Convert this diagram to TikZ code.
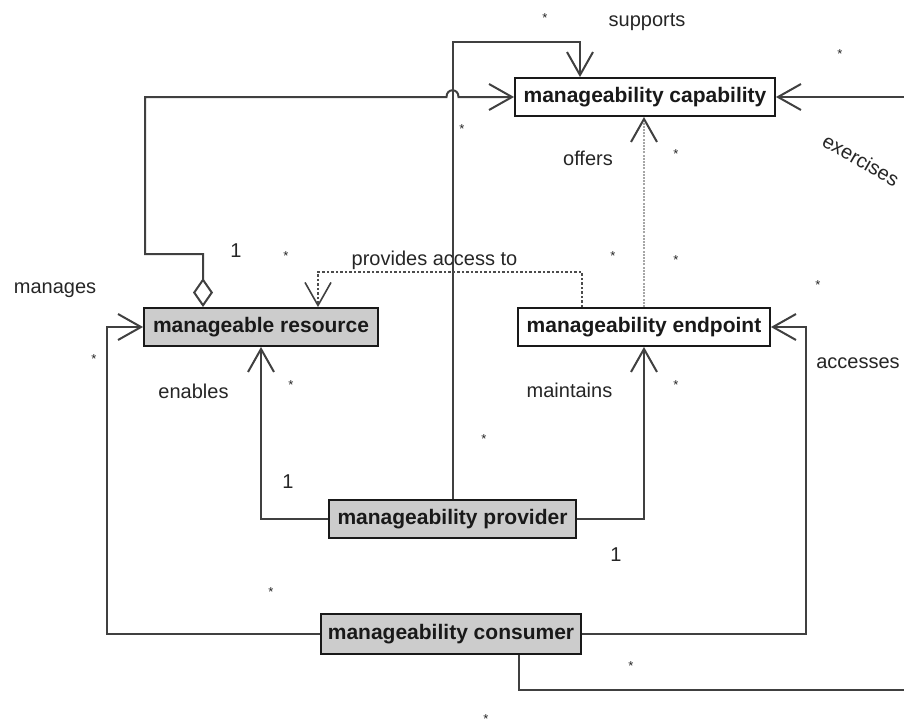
\documentclass[tikz,border=0pt]{standalone}
\usepackage{fontspec}
\setmainfont{Liberation Sans}
\usetikzlibrary{arrows.meta}
\begin{document}
\begin{tikzpicture}[x=1pt,y=-1pt,
  cls/.style={draw=black!90, line width=1.9pt, minimum height=38pt, inner sep=0pt,
    font=\bfseries\fontsize{21}{21}\selectfont, text=black!90},
  shaded/.style={cls, fill=black!20},
  plain/.style={cls, fill=white},
  link/.style={draw=black!75, line width=2pt},
  access/.style={draw=black!70, line width=1.6pt, dash pattern=on 2.5pt off 2pt},
  offer/.style={draw=black!35, line width=2pt, dash pattern=on 2pt off 1.2pt},
  barb/.style={-{Straight Barb[length=23pt,width=26pt,color=black!75]}},
  lbl/.style={font=\fontsize{20}{20}\selectfont, text=black!85, inner sep=0pt},
  mult/.style={font=\fontsize{13}{13}\selectfont, text=black!85, inner sep=0pt, anchor=base},
]
\useasboundingbox[fill=white] (0,0) rectangle (904,724);
\begin{scope}
\clip (0,0) rectangle (904,724);

% classes
\node[plain, minimum width=260pt] (cap) at (645,97) {manageability capability};
\node[shaded, minimum width=234pt] (res) at (261,327) {manageable resource};
\node[plain, minimum width=252pt] (endp) at (644,327) {manageability endpoint};
\node[shaded, minimum width=247pt] (prov) at (452.5,519) {manageability provider};
\node[shaded, minimum width=260pt, minimum height=40pt] (cons) at (451,634) {manageability consumer};

% bend points
\coordinate (sA) at (452.5,42);
\coordinate (sB) at (580,42);
\coordinate (mA) at (203,254);
\coordinate (mB) at (145,254);
\coordinate (mC) at (145,97);
\coordinate (hopL) at (446.5,97);
\coordinate (hopR) at (458.5,97);
\coordinate (eA) at (519,690);
\coordinate (eB) at (930,690);
\coordinate (eC) at (930,97);
\coordinate (pA) at (582,272);
\coordinate (pB) at (318,272);
\coordinate (nA) at (261,519);
\coordinate (tA) at (644,519);
\coordinate (cA) at (107,634);
\coordinate (cB) at (107,327);
\coordinate (aA) at (806,634);
\coordinate (aB) at (806,327);

% supports
\draw[link,barb] (prov.north) -- (sA) -- (sB) -- (sB |- cap.north);
% manages (aggregation), hopping over the supports line
\draw[link,{Diamond[open,length=29pt,width=20pt]}-{Straight Barb[length=23pt,width=26pt]}]
  (mA |- res.north) -- (mA) -- (mB) -- (mC) -- (hopL)
  .. controls (446.5,88) and (458.5,88) .. (hopR) -- (cap.west);
% exercises
\draw[link,barb] (cons.south -| eA) -- (eA) -- (eB) -- (eC) -- (cap.east);
% offers
\draw[offer,barb] (endp.north) -- (endp.north |- cap.south);
% provides access to
\draw[access,barb] (pA |- endp.north) -- (pA) -- (pB) -- (pB |- res.north);
% enables / maintains
\draw[link,barb] (prov.west) -- (nA) -- (res.south);
\draw[link,barb] (prov.east) -- (tA) -- (endp.south);
% manages / accesses
\draw[link,barb] (cons.west) -- (cA) -- (cB) -- (res.west);
\draw[link,barb] (cons.east) -- (aA) -- (aB) -- (endp.east);

% association names
\node[lbl] (lSup) at (647,22) {supports};
\node[lbl, rotate=-30] (lExe) at (861,160) {exercises};
\node[lbl] (lOff) at (588,158) {offers};
\node[lbl] (lPro) at (434.5,260) {provides access to};
\node[lbl] (lMan) at (55,290) {manages};
\node[lbl] (lEna) at (193.5,391) {enables};
\node[lbl] (lMai) at (569.5,390) {maintains};
\node[lbl] (lAcc) at (858,363) {accesses};

% multiplicities
\node[lbl] (one1) at (236,251) {1};
\node[lbl] (one2) at (288,482) {1};
\node[lbl] (one3) at (616,555) {1};
\node[mult] (s1) at (545,22) {*};
\node[mult] (s2) at (840,58) {*};
\node[mult] (s3) at (462,133) {*};
\node[mult] (s4) at (676,158) {*};
\node[mult] (s5) at (286,260) {*};
\node[mult] (s6) at (613,260) {*};
\node[mult] (s7) at (676,264) {*};
\node[mult] (s8) at (818,289) {*};
\node[mult] (s9) at (94,363) {*};
\node[mult] (s10) at (291,389) {*};
\node[mult] (s11) at (676,389) {*};
\node[mult] (s12) at (484,443) {*};
\node[mult] (s13) at (271,596) {*};
\node[mult] (s14) at (631,670) {*};
\node[mult] (s15) at (486,723) {*};
\end{scope}
\end{tikzpicture}
\end{document}
